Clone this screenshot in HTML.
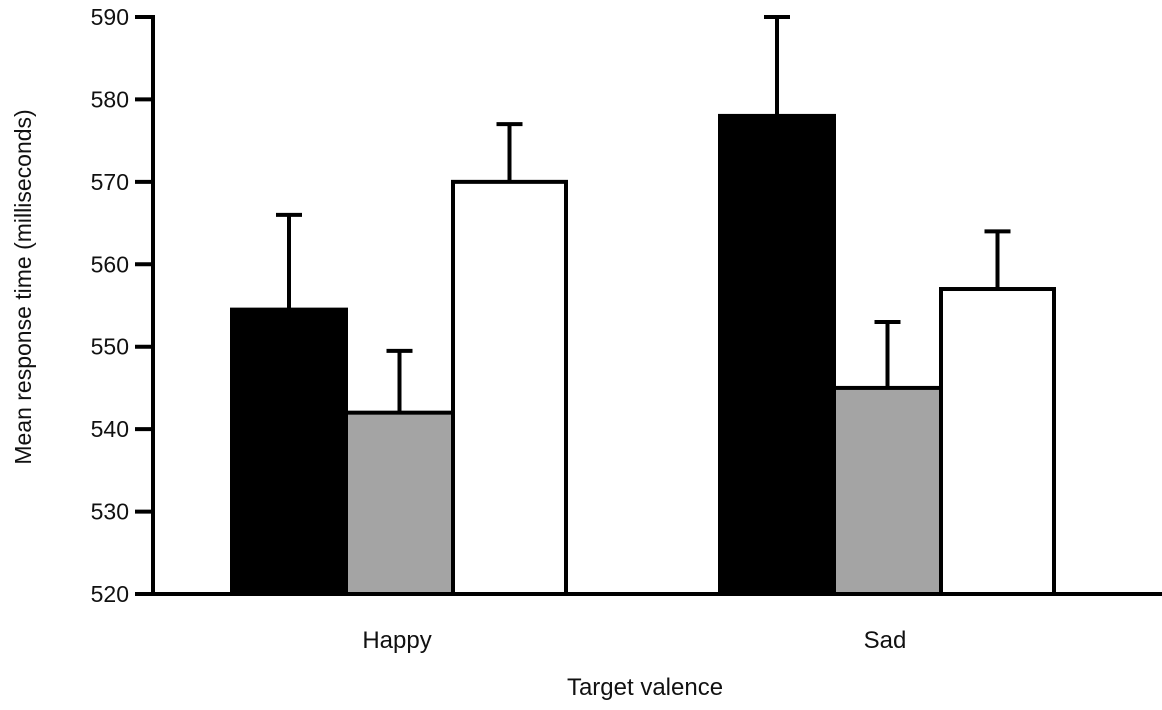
<!DOCTYPE html>
<html><head><meta charset="utf-8"><style>
html,body{margin:0;padding:0;background:#fff;}
svg{display:block;font-family:"Liberation Sans",sans-serif;}
</style></head><body>
<svg id="chart" width="1162" height="710" viewBox="0 0 1162 710"></svg>
<script>
const categories = ["Happy", "Sad"];
const seriesBlack = [554.5, 578];
const seriesGray = [542, 545];
const seriesWhite = [570, 557];
const errBlack = [11.5, 12];
const errGray = [7.5, 8];
const errWhite = [7, 7];
const yTicks = [520, 530, 540, 550, 560, 570, 580, 590];

const svg = document.getElementById('chart');
const NS = 'http://www.w3.org/2000/svg';
const y0 = 594, yTop = 17, vMin = 520, vMax = 590;
function y(v){ return y0 - (v - vMin) / (vMax - vMin) * (y0 - yTop); }
const groupLeft = [232, 720];
const barW = [114, 107, 113];
function mk(tag, attrs){ const e = document.createElementNS(NS, tag); for (const k in attrs) e.setAttribute(k, attrs[k]); svg.appendChild(e); return e; }

const series = [
  {vals: seriesBlack, err: errBlack, fill: '#000', name: 'black'},
  {vals: seriesGray, err: errGray, fill: '#a4a4a4', name: 'gray'},
  {vals: seriesWhite, err: errWhite, fill: '#fff', name: 'white'}
];
categories.forEach((c, gi) => {
  let x = groupLeft[gi];
  series.forEach((s, si) => {
    const w = barW[si];
    const top = y(s.vals[gi]);
    const cx = x + w / 2;
    const ey = y(s.vals[gi] + s.err[gi]);
    const el = mk('line', {x1: cx, x2: cx, y1: top, y2: ey, stroke: '#000', 'stroke-width': 4});
    
    
    const cap = mk('line', {x1: cx - 13, x2: cx + 13, y1: ey, y2: ey, stroke: '#000', 'stroke-width': 4});
    
    
    const r = mk('rect', {x: x, y: top, width: w, height: y0 - top, fill: s.fill, stroke: '#000', 'stroke-width': 4});
    
    
    x += w;
  });
  const lbl = mk('text', {x: groupLeft[gi] + 165, y: 648, 'font-size': 24, 'text-anchor': 'middle', fill: '#111'});
  lbl.textContent = c;
  
  
});
yTicks.forEach(t => {
  const ty = y(t);
  const tk = mk('line', {x1: 135, x2: 153, y1: ty, y2: ty, stroke: '#000', 'stroke-width': 4});
  
  
  const tl = mk('text', {x: 129, y: ty + 8, 'font-size': 23, 'text-anchor': 'end', fill: '#111'});
  tl.textContent = t;
  
  
});
const ya = mk('line', {x1: 153, x2: 153, y1: 15, y2: 596, stroke: '#000', 'stroke-width': 4});


const xa = mk('line', {x1: 151, x2: 1162, y1: y0, y2: y0, stroke: '#000', 'stroke-width': 4});


const yt = mk('text', {x: 0, y: 0, 'font-size': 23, 'text-anchor': 'middle', fill: '#111', transform: 'translate(31,287) rotate(-90)'});
yt.textContent = 'Mean response time (milliseconds)';


const xt = mk('text', {x: 645, y: 695, 'font-size': 24, 'text-anchor': 'middle', fill: '#111'});
xt.textContent = 'Target valence';


</script>
</body></html>
